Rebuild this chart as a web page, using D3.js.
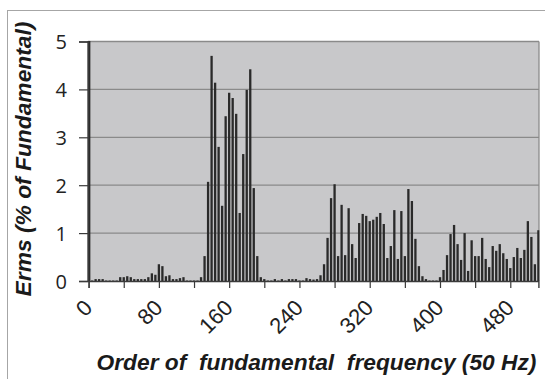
<!DOCTYPE html>
<html><head><meta charset="utf-8">
<script src="https://cdn.jsdelivr.net/npm/d3@7"></script>
<style>body{margin:0;background:#fff}svg{display:block}</style>
</head><body>
<svg id="c" width="545" height="379"></svg>
<script>
// Harmonic order categories (every 4th order, 0..512)
const orders = d3.range(0, 513, 4);
// Erms (% of fundamental) (first bar = fundamental, clipped)
const erms = [
 100, 0.01, 0.04, 0.04, 0.04, 0.01, 0.01, 0.01, 0.01, 0.08,
 0.08, 0.10, 0.08, 0.04, 0.04, 0.04, 0.04, 0.08, 0.16, 0.13,
 0.35, 0.31, 0.10, 0.12, 0.04, 0.04, 0.06, 0.08, 0.01, 0.01,
 0.01, 0.01, 0.08, 0.52, 2.07, 4.70, 4.14, 2.80, 1.57, 3.44,
 3.93, 3.82, 3.49, 1.42, 2.65, 3.99, 4.42, 1.94, 0.52, 0.08,
 0.04, 0.01, 0.01, 0.04, 0.01, 0.04, 0.01, 0.04, 0.04, 0.04,
 0.01, 0.01, 0.06, 0.04, 0.03, 0.04, 0.12, 0.35, 0.90, 1.73,
 2.02, 0.52, 1.59, 0.54, 1.52, 0.77, 0.48, 1.21, 1.40, 1.36,
 1.25, 1.28, 1.34, 1.42, 1.19, 0.48, 0.73, 1.48, 0.46, 1.46,
 0.52, 1.92, 1.67, 0.88, 0.31, 0.10, 0.04, 0.01, 0.01, 0.01,
 0.08, 0.23, 0.54, 0.98, 1.17, 0.77, 0.44, 1.00, 0.21, 0.85,
 0.52, 0.52, 0.90, 0.46, 0.29, 0.73, 0.63, 0.77, 0.58, 0.46,
 0.27, 0.50, 0.69, 0.48, 0.65, 1.25, 0.92, 0.35, 1.06
];
const xTicks = [0, 40, 80, 120, 160, 200, 240, 280, 320, 360, 400, 440, 480];
const xLabels = [0, 80, 160, 240, 320, 400, 480];
const yTicks = [0, 1, 2, 3, 4, 5];
const xTitle = "Order of  fundamental  frequency (50 Hz)";
const yTitle = "Erms (% of Fundamental)";

const svg = d3.select('#c');
const L = 88, R = 539, T = 41.5, B = 281;
const x = d3.scaleLinear().domain([0, 512]).range([88.6, 538.4]);
const y = d3.scaleLinear().domain([0, 5]).range([B, T]);

// outer chart frame
svg.append('rect').attr('x', 7.5).attr('y', 10.5).attr('width', 600).attr('height', 400)
  .attr('fill', '#fff').attr('stroke', '#a6a6a6').attr('stroke-width', 1);

// plot area
svg.append('rect').attr('x', L).attr('y', T).attr('width', R - L).attr('height', B - T)
  .attr('fill', '#c8c8ca');

// gridlines
svg.append('g').selectAll('line').data(yTicks.filter(d => d > 0)).join('line')
  .attr('x1', L).attr('x2', R).attr('y1', d => y(d)).attr('y2', d => y(d))
  .attr('stroke', '#8a8a8a').attr('stroke-width', 1.3);
svg.append('line').attr('x1', R).attr('x2', R).attr('y1', T).attr('y2', B)
  .attr('stroke', '#8a8a8a').attr('stroke-width', 1.3);

// clip
svg.append('clipPath').attr('id', 'pc').append('rect')
  .attr('x', L - 1).attr('y', T - 0.5).attr('width', R - L + 1.5).attr('height', B - T + 0.5);

// bars
const bw = 2.3;
svg.append('g').attr('clip-path', 'url(#pc)').selectAll('rect')
  .data(orders.map((o, i) => ({o, v: erms[i]}))).join('rect')
  .attr('x', d => x(d.o) - bw / 2).attr('width', d => d.o === 0 ? bw + 0.6 : bw)
  .attr('y', d => y(d.v)).attr('height', d => B - y(d.v))
  .attr('fill', '#2a2a2a');

// y axis
const ya = svg.append('g').attr('transform', `translate(${L},0)`)
  .call(d3.axisLeft(y).tickValues(yTicks).tickSize(9).tickPadding(12).tickFormat(d3.format('d')));
ya.select('.domain').attr('stroke', '#3a3a3a').attr('stroke-width', 1.4);
ya.selectAll('.tick line').attr('stroke', '#3a3a3a').attr('stroke-width', 1.2);
ya.selectAll('.tick text').attr('font-family', '"Open Sans", sans-serif').attr('font-size', 20)
  .attr('fill', '#222').attr('dy', '0.36em');

// x axis
const xa = svg.append('g').attr('transform', `translate(0,${B})`)
  .call(d3.axisBottom(x).tickValues(xTicks).tickSize(7)
    .tickFormat(d => xLabels.includes(d) ? d : ''));
xa.select('.domain').attr('stroke', '#3a3a3a').attr('stroke-width', 1.4);
xa.selectAll('.tick line').attr('stroke', '#3a3a3a').attr('stroke-width', 1.2);
xa.selectAll('.tick text')
  .attr('font-family', '"Liberation Sans", Arial, sans-serif').attr('font-size', 22)
  .attr('fill', '#222').attr('text-anchor', 'end')
  .attr('x', 0).attr('y', 0).attr('dy', 0)
  .attr('transform', 'translate(4.5,28) rotate(-45)');

// titles
function fit(sel, target) {
  const len = sel.node().getComputedTextLength();
  const fs = parseFloat(sel.attr('font-size'));
  sel.attr('font-size', fs * target / len);
}
const xt = svg.append('text').attr('x', 316.5).attr('y', 370).attr('text-anchor', 'middle')
  .attr('font-family', '"Liberation Sans", Arial, sans-serif').attr('font-weight', 'bold')
  .attr('font-style', 'italic').attr('font-size', 22).attr('fill', '#1a1a1a')
  .style('white-space', 'pre').attr('xml:space', 'preserve').text(xTitle);
fit(xt, 440);
const yt = svg.append('text').attr('transform', 'translate(31,159) rotate(-90)')
  .attr('text-anchor', 'middle')
  .attr('font-family', '"Liberation Sans", Arial, sans-serif').attr('font-weight', 'bold')
  .attr('font-style', 'italic').attr('font-size', 22).attr('fill', '#1a1a1a')
  .text(yTitle);
fit(yt, 275);
</script>
</body></html>
